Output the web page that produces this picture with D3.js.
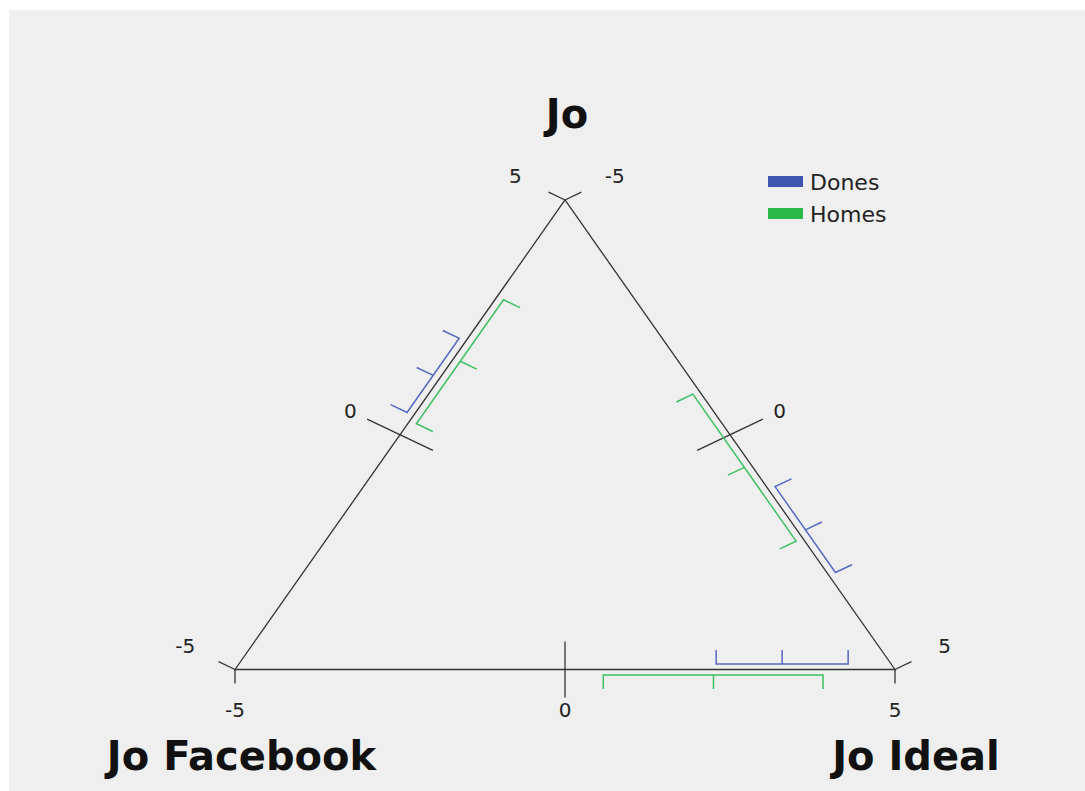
<!DOCTYPE html>
<html><head><meta charset="utf-8">
<script src="https://cdn.jsdelivr.net/npm/d3@7"></script>
<style>html,body{margin:0;padding:0;background:#fff;}svg{display:block;}</style>
</head><body>
<svg id="chart" width="1085" height="791"></svg>
<script>
// ---- data ----
const axisNames = ["bottom", "left", "right"];
const cornerTitles = ["Jo", "Jo Facebook", "Jo Ideal"];
const tickValues = [-5, 0, 5];
const seriesNames = ["Dones", "Homes"];
const seriesColors = ["#3f56b0", "#2db84a"];
const lineColors = ["#5569c2", "#3fc060"];
// per axis: bottom, left, right
const donesMin  = [2.29, 0.41, 1.17];
const donesMean = [3.29, 1.20, 2.09];
const donesMax  = [4.29, 1.99, 3.00];
const homesMin  = [0.58, 0.30, -0.93];
const homesMean = [2.25, 1.63, 0.63];
const homesMax  = [3.91, 2.94, 2.20];

// ---- layout ----
const svg = d3.select("#chart");
svg.append("rect").attr("x", 9).attr("y", 10).attr("width", 1085 - 9).attr("height", 791 - 10).attr("fill", "#efefef");

const xS = d3.scaleLinear().domain([-5, 5]).range([235, 895]);
const T = [xS(0), 200], BL = [xS(-5), 669.5], BR = [xS(5), 669.5];
const ky = (BL[1] - T[1]) / ((BR[0] - BL[0]) * Math.sqrt(3) / 2);

const axes = {
  bottom: {a: BL, b: BR, k: 1.0},
  left:   {a: BL, b: T,  k: 1.3},
  right:  {a: T,  b: BR, k: 1.3}
};
Object.values(axes).forEach(ax => {
  const dx = ax.b[0] - ax.a[0], dy = (ax.b[1] - ax.a[1]) / ky;
  const L = Math.hypot(dx, dy);
  const ux = dx / L, uy = dy / L;
  let nx = uy, ny = -ux * ky;
  const nl = Math.hypot(nx, ny);
  ax.n = [nx / nl, ny / nl];
  ax.t = d3.scaleLinear().domain([-5, 5]).range([0, 1]);
  ax.pt = v => { const t = ax.t(v); return [ax.a[0] + t * (ax.b[0] - ax.a[0]), ax.a[1] + t * (ax.b[1] - ax.a[1])]; };
});

const g = svg.append("g");
const line = d3.line();
g.append("path").attr("d", line([BL, T, BR]) + "Z").attr("fill", "none").attr("stroke", "#333").attr("stroke-width", 1.3);

const off = (p, n, d) => [p[0] + n[0] * d, p[1] + n[1] * d];

axisNames.forEach(name => {
  const ax = axes[name];
  const sign = name === "bottom" ? -1 : 1;
  tickValues.forEach(v => {
    const p = ax.pt(v);
    let seg;
    if (v === 0) seg = [off(p, ax.n, -28 * ax.k), off(p, ax.n, 28 * ax.k)];
    else seg = [p, off(p, ax.n, sign * 14 * ax.k)];
    g.append("path").attr("d", line(seg)).attr("stroke", "#333").attr("stroke-width", 1.3).attr("fill", "none");
    const lp = name === "bottom" ? off(p, ax.n, -40) : off(p, ax.n, 55);
    g.append("text").attr("x", lp[0]).attr("y", lp[1]).attr("text-anchor", "middle").attr("dominant-baseline", "central")
      .attr("font-family", "DejaVu Sans, sans-serif").attr("font-size", 20).attr("fill", "#222").text(String(v));
  });
});

const series = [
  {min: donesMin, mean: donesMean, max: donesMax, s: 1, color: lineColors[0]},
  {min: homesMin, mean: homesMean, max: homesMax, s: -1, color: lineColors[1]}
];
series.forEach(sr => {
  axisNames.forEach((name, i) => {
    const ax = axes[name];
    const base = 5.5 * ax.k, tick = 14 * ax.k;
    const p0 = off(ax.pt(sr.min[i]), ax.n, sr.s * base);
    const p1 = off(ax.pt(sr.max[i]), ax.n, sr.s * base);
    const pm = off(ax.pt(sr.mean[i]), ax.n, sr.s * base);
    g.append("path").attr("d", line([off(p0, ax.n, sr.s * tick), p0, p1, off(p1, ax.n, sr.s * tick)]))
      .attr("fill", "none").attr("stroke", sr.color).attr("stroke-width", 1.5);
    g.append("path").attr("d", line([pm, off(pm, ax.n, sr.s * tick)])).attr("fill", "none").attr("stroke", sr.color).attr("stroke-width", 1.5);
  });
});

const titlePos = [[567, 128], [241.5, 770], [916, 770]];
cornerTitles.forEach((t, i) => {
  svg.append("text").attr("x", titlePos[i][0]).attr("y", titlePos[i][1]).attr("text-anchor", "middle")
    .attr("font-family", "DejaVu Sans, sans-serif").attr("font-weight", "bold").attr("font-size", 40).attr("fill", "#111").text(t);
});

const lg = svg.append("g").attr("transform", "translate(768,176)");
seriesNames.forEach((s, i) => {
  lg.append("rect").attr("x", 0).attr("y", i * 32).attr("width", 35).attr("height", 11).attr("fill", seriesColors[i]);
  lg.append("text").attr("x", 42).attr("y", i * 32 + 6).attr("dominant-baseline", "central")
    .attr("font-family", "DejaVu Sans, sans-serif").attr("font-size", 22).attr("fill", "#222").text(s);
});
</script>
</body></html>
